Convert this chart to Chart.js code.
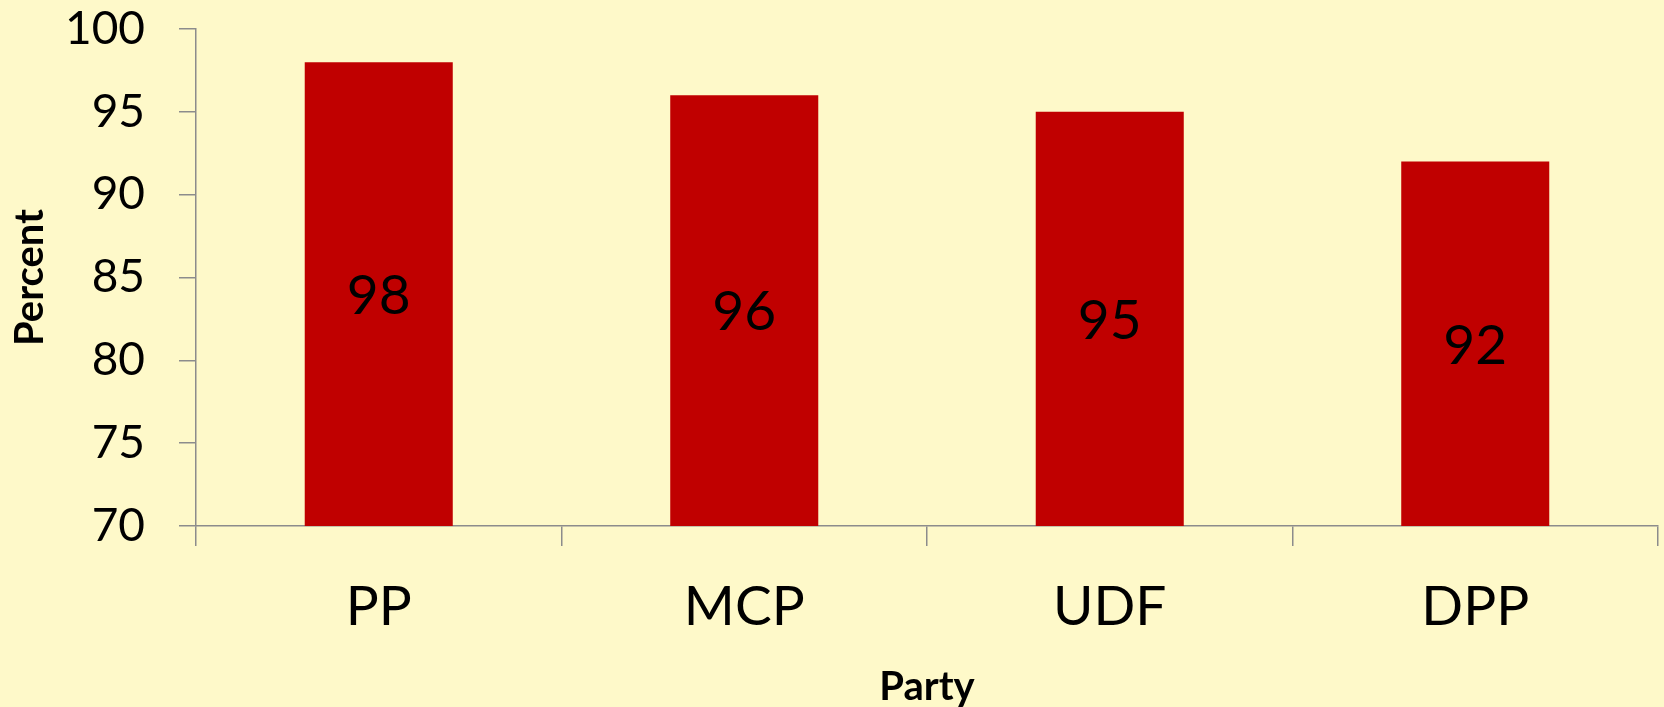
<!DOCTYPE html>
<html>
<head>
<meta charset="utf-8">
<script src="https://cdn.jsdelivr.net/npm/chart.js@4/dist/chart.umd.min.js"></script>
<style>
  html, body { margin: 0; padding: 0; background: #FEF9C9; }
  #wrap { width: 1664px; height: 707px; position: relative; }
</style>
</head>
<body>
<div id="wrap"><canvas id="c" width="1664" height="707"></canvas></div>
<script>
const categories = ['PP', 'MCP', 'UDF', 'DPP'];
const percentValues = [98, 96, 95, 92];
const yTickMin = 70;
const yTickMax = 100;
const yTickStep = 5;
const xTitle = 'Party';
const yTitle = 'Percent';

const valueLabels = {
  id: 'valueLabels',
  afterDraw(chart) {
    const ctx = chart.ctx;
    const xs = chart.scales.x;
    const ys = chart.scales.y;
    const vals = chart.data.datasets[0].data;
    ctx.save();
    ctx.font = '55px Lato';
    ctx.fillStyle = '#000000';
    ctx.textAlign = 'center';
    ctx.textBaseline = 'middle';
    for (let i = 0; i < vals.length; i++) {
      const v = vals[i];
      const x = xs.getPixelForValue(i);
      const yTop = ys.getPixelForValue(v);
      const yBase = ys.getPixelForValue(ys.min);
      ctx.fillText(String(v), x, (yTop + yBase) / 2 + 2);
    }
    ctx.restore();
  }
};

new Chart(document.getElementById('c'), {
  type: 'bar',
  data: {
    labels: categories,
    datasets: [{
      data: percentValues,
      backgroundColor: '#C00000',
      borderWidth: 0,
      categoryPercentage: 1.0,
      barPercentage: 0.405
    }]
  },
  options: {
    responsive: false,
    animation: false,
    layout: { padding: { top: 29, right: 6, bottom: 0, left: 0 } },
    plugins: { legend: { display: false }, tooltip: { enabled: false } },
    scales: {
      x: {
        grid: { display: true, drawOnChartArea: false, drawTicks: true, tickLength: 20, color: '#8C8C8C', lineWidth: 1.5, offset: true },
        border: { display: true, color: '#8C8C8C', width: 1.5 },
        ticks: { color: '#000', font: { family: 'Lato', size: 55 }, padding: 28, maxRotation: 0 },
        title: { display: true, text: xTitle, color: '#000', font: { family: 'Lato', size: 40, weight: 'bold' }, padding: { top: 0, bottom: -4 } },
        afterFit(scale) { scale.height = 707 - 526; scale.paddingLeft = 0; scale.paddingRight = 0; }
      },
      y: {
        min: yTickMin,
        max: yTickMax,
        grid: { display: true, drawOnChartArea: false, drawTicks: true, tickLength: 17, color: '#8C8C8C', lineWidth: 1.5 },
        border: { display: true, color: '#8C8C8C', width: 1.5 },
        ticks: { stepSize: yTickStep, color: '#000', font: { family: 'Lato', size: 46 }, padding: 34 },
        title: { display: true, text: yTitle, color: '#000', font: { family: 'Lato', size: 40, weight: 'bold' }, padding: { top: 6, bottom: 0 } },
        afterFit(scale) { scale.width = 196; scale.paddingTop = 0; scale.paddingBottom = 0; }
      }
    }
  },
  plugins: [valueLabels]
});
</script>
</body>
</html>
